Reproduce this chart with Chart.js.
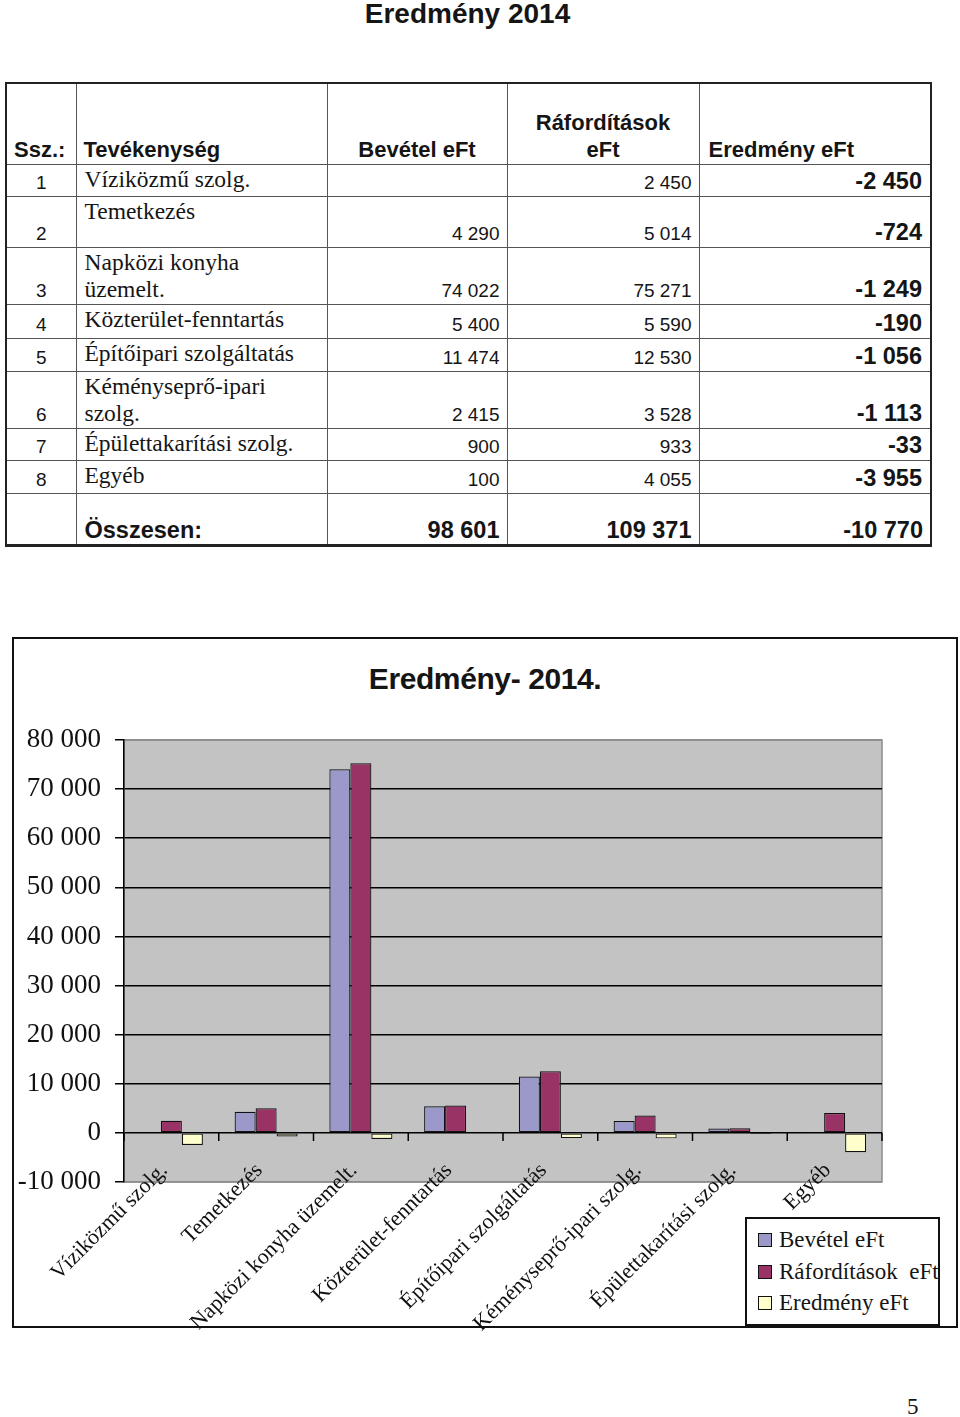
<!DOCTYPE html>
<html lang="hu">
<head>
<meta charset="utf-8">
<title>Eredmény 2014</title>
<script src="https://cdn.jsdelivr.net/npm/chart.js@4.4.1/dist/chart.umd.min.js"></script>
<style>
  html, body { margin: 0; padding: 0; background: #fff; }
  body { position: relative; width: 960px; height: 1417px; overflow: hidden; font-family: 'Liberation Sans', Arial, sans-serif; color: #151515; }
  #pageTitle { position: absolute; left: 5px; top: 0; width: 925px; text-align: center; font-weight: bold; font-size: 28px; line-height: 28px; }
  #tbl { position: absolute; left: 5px; top: 82px; width: 925px; border-collapse: collapse; table-layout: fixed; border: 2px solid #222; border-bottom: 3px solid #222; }
  #tbl td { border: 1.5px solid #555; padding: 0 7px 2px 7px; vertical-align: bottom; font-size: 19px; line-height: 22px; white-space: nowrap; }
  #tbl tr.head td { font-weight: bold; font-size: 22px; line-height: 27px; padding-bottom: 1px; }
  #tbl td.n { text-align: center; }
  #tbl td.t { font-family: 'Liberation Serif', 'Times New Roman', serif; font-size: 23.5px; line-height: 27px; vertical-align: top; white-space: normal; padding: 1px 18px 0 8px; }
  #tbl td.c { text-align: center; }
  #tbl td.v { text-align: right; }
  #tbl td.b { font-weight: bold; font-size: 23.5px; line-height: 26px; padding-right: 8px; }
  #tbl tr.total td { font-weight: bold; font-size: 23.5px; line-height: 26px; padding-bottom: 1px; }
  #tbl tr.total td.t { font-family: 'Liberation Sans', Arial, sans-serif; vertical-align: bottom; }
  #chartBox { position: absolute; left: 12px; top: 637px; width: 942px; height: 687px; border: 2px solid #111; }
  #chartTitle { position: absolute; left: 14px; top: 662px; width: 942px; text-align: center; font-weight: bold; font-size: 30px; line-height: 34px; letter-spacing: -0.4px; color: #151515; }
  #chartWrap { position: absolute; left: 14px; top: 639px; width: 942px; height: 710px; }
  #legend { position: absolute; left: 745px; top: 1217px; width: 191px; height: 100px; border: 2px solid #111; background: #fff; font-family: 'Liberation Serif', 'Times New Roman', serif; font-size: 23px; padding-top: 5px; box-sizing: content-box; }
  #legend .item { height: 31.5px; line-height: 31px; white-space: pre; position: relative; padding-left: 32px; }
  #legend .sw { position: absolute; left: 11px; top: 9px; width: 12px; height: 12px; border: 1.5px solid #111; }
  #pageNum { position: absolute; left: 907px; top: 1394px; font-family: 'Liberation Serif', 'Times New Roman', serif; font-size: 23px; }
</style>
</head>
<body>
<div id="pageTitle">Eredmény 2014</div>
<table id="tbl"></table>

<div id="chartBox"></div>
<div id="chartTitle">Eredmény- 2014.</div>
<div id="chartWrap"><canvas id="chart"></canvas></div>
<div id="legend"></div>
<div id="pageNum">5</div>

<script>
// adatok
const categories = ['Víziközmű szolg.', 'Temetkezés', 'Napközi konyha üzemelt.', 'Közterület-fenntartás',
  'Építőipari szolgáltatás', 'Kéményseprő-ipari szolg.', 'Épülettakarítási szolg.', 'Egyéb'];
const bevetel = [null, 4290, 74022, 5400, 11474, 2415, 900, 100];
const raforditas = [2450, 5014, 75271, 5590, 12530, 3528, 933, 4055];
const eredmeny = [-2450, -724, -1249, -190, -1056, -1113, -33, -3955];
const totals = [98601, 109371, -10770];
const seriesLabels = ['Bevétel eFt', 'Ráfordítások  eFt', 'Eredmény eFt'];
const yMin = -10000, yMax = 80000, yStep = 10000;

const rowHeights = [32, 51, 57, 34, 33, 57, 32, 33];

function fmt(v) {
  if (v === null || v === undefined) return '';
  const s = String(Math.abs(v)).replace(/\B(?=(\d{3})+(?!\d))/g, ' ');
  return (v < 0 ? '-' : '') + s;
}

// tablazat
let html = '<colgroup><col style="width:70px"><col style="width:251px"><col style="width:180px"><col style="width:192px"><col style="width:232px"></colgroup>';
html += '<tr class="head" style="height:81px"><td>Ssz.:</td><td>Tevékenység</td><td class="c">Bevétel eFt</td>' +
  '<td class="c">Ráfordítások<br>eFt</td><td style="padding-left:9px">Eredmény eFt</td></tr>';
categories.forEach((c, i) => {
  html += `<tr style="height:${rowHeights[i]}px"><td class="n">${i + 1}</td><td class="t">${c}</td>` +
    `<td class="v">${fmt(bevetel[i])}</td><td class="v">${fmt(raforditas[i])}</td><td class="v b">${fmt(eredmeny[i])}</td></tr>`;
});
html += `<tr class="total" style="height:52px"><td></td><td class="t">Összesen:</td><td class="v">${fmt(totals[0])}</td>` +
  `<td class="v">${fmt(totals[1])}</td><td class="v">${fmt(totals[2])}</td></tr>`;
document.getElementById('tbl').innerHTML = html;

// szurke rajzterulet
const plotBackground = {
  id: 'plotBackground',
  beforeDraw(chart) {
    const { ctx, chartArea } = chart;
    ctx.save();
    ctx.fillStyle = '#c3c3c3';
    ctx.fillRect(chartArea.left, chartArea.top, chartArea.width, chartArea.height);
    ctx.strokeStyle = '#8c8c8c';
    ctx.lineWidth = 1.5;
    ctx.strokeRect(chartArea.left, chartArea.top, chartArea.width, chartArea.height);
    ctx.restore();
  }
};

// kategoria jelolok a 0 vonalon
const zeroTicks = {
  id: 'zeroTicks',
  afterDatasetsDraw(chart) {
    const { ctx } = chart;
    const x = chart.scales.x, y = chart.scales.y;
    const y0 = y.getPixelForValue(0);
    const half = (x.getPixelForValue(1) - x.getPixelForValue(0)) / 2;
    ctx.save();
    ctx.strokeStyle = '#000';
    ctx.lineWidth = 1.5;
    ctx.beginPath();
    for (let i = 0; i <= categories.length; i++) {
      const px = x.getPixelForValue(0) - half + i * half * 2;
      ctx.moveTo(px, y0);
      ctx.lineTo(px, y0 + 8);
    }
    ctx.stroke();
    ctx.restore();
  }
};

// ferde kategoria feliratok (a rajzterulet aljaba is belelognak, mint az eredetin)
const slantedLabels = {
  id: 'slantedLabels',
  afterDraw(chart) {
    const { ctx, chartArea } = chart;
    const x = chart.scales.x;
    ctx.save();
    ctx.fillStyle = '#111';
    ctx.font = "22px 'Liberation Serif', 'Times New Roman', serif";
    ctx.textAlign = 'right';
    ctx.textBaseline = 'middle';
    x.getLabels().forEach((lbl, i) => {
      ctx.save();
      ctx.translate(x.getPixelForValue(i) - 7, chartArea.bottom - 15);
      ctx.rotate(-Math.PI / 4);
      ctx.fillText(lbl, 0, 0);
      ctx.restore();
    });
    ctx.restore();
  }
};

const barStyle = { borderColor: '#111', borderWidth: 1.2, borderSkipped: false, barPercentage: 1, categoryPercentage: 0.665 };

const chart = new Chart(document.getElementById('chart'), {
  type: 'bar',
  data: {
    labels: categories,
    datasets: [
      Object.assign({ label: seriesLabels[0], data: bevetel, backgroundColor: '#9b98ca' }, barStyle),
      Object.assign({ label: seriesLabels[1], data: raforditas, backgroundColor: '#993366' }, barStyle),
      Object.assign({ label: seriesLabels[2], data: eredmeny, backgroundColor: '#ffffcc' }, barStyle)
    ]
  },
  options: {
    responsive: true,
    maintainAspectRatio: false,
    animation: false,
    layout: { padding: { top: 101, right: 74, left: 0, bottom: 0 } },
    plugins: {
      legend: { display: false },
      tooltip: { enabled: false },
      title: { display: false }
    },
    scales: {
      x: {
        grid: { display: false, drawTicks: false },
        border: { display: false },
        ticks: { display: false },
        afterFit(scale) { scale.height = 167; }
      },
      y: {
        min: yMin,
        max: yMax,
        ticks: {
          stepSize: yStep,
          padding: 14,
          color: '#111',
          font: { family: "'Liberation Serif', 'Times New Roman', serif", size: 27 },
          callback: (v) => fmt(v)
        },
        grid: {
          color: (c) => (c.tick && (c.tick.value === yMax || c.tick.value === yMin)) ? '#8c8c8c' : '#000',
          tickColor: '#000',
          lineWidth: 1.5,
          tickLength: 9
        },
        border: { display: true, color: '#000', width: 1.5 },
        afterFit(scale) { scale.width = 110; }
      }
    }
  },
  plugins: [plotBackground, zeroTicks, slantedLabels]
});

// jelmagyarazat
const legend = document.getElementById('legend');
chart.data.datasets.forEach((ds) => {
  const item = document.createElement('div');
  item.className = 'item';
  const sw = document.createElement('span');
  sw.className = 'sw';
  sw.style.background = ds.backgroundColor;
  item.appendChild(sw);
  item.appendChild(document.createTextNode(ds.label));
  legend.appendChild(item);
});
</script>
</body>
</html>
